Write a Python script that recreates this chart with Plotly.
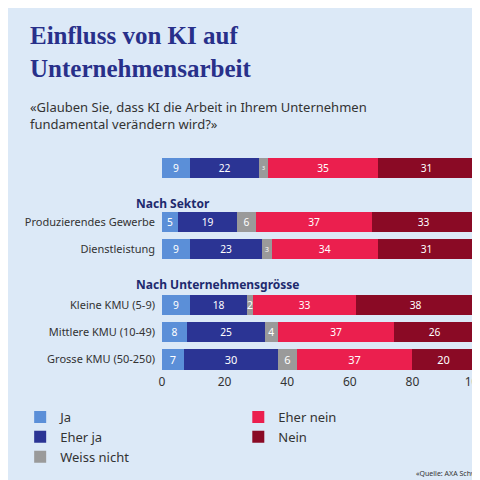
import plotly.graph_objects as go

categories = ["", "Produzierendes Gewerbe", "Dienstleistung", "Kleine KMU (5-9)", "Mittlere KMU (10-49)", "Grosse KMU (50-250)"]
ypos = [0, 2, 3, 5.07, 6.07, 7.1]
series = ["Ja", "Eher ja", "Weiss nicht", "Eher nein", "Nein"]
ja = [9, 5, 9, 9, 8, 7]
eher_ja = [22, 19, 23, 18, 25, 30]
weiss_nicht = [3, 6, 3, 2, 4, 6]
eher_nein = [35, 37, 34, 33, 37, 37]
nein = [31, 33, 31, 38, 26, 20]
values = [ja, eher_ja, weiss_nicht, eher_nein, nein]
colors = ["#5b8fd8", "#2b3494", "#9a9a9a", "#eb1f4e", "#8a0a25"]
legends = ["legend", "legend", "legend", "legend2", "legend2"]
headers = [("Total", -0.75), ("Nach Sektor", 1.3), ("Nach Unternehmensgrösse", 4.3)]

fig = go.Figure()
for name, v, c, lg in zip(series, values, colors, legends):
    fig.add_trace(go.Bar(y=ypos, x=v, name=name, orientation="h", marker_color=c,
                         marker_line_width=0, width=0.75, text=v, textposition="inside",
                         insidetextanchor="middle", textangle=0,
                         textfont=dict(color="white", size=11),
                         legend=lg, legendgroup=name))

ann = [dict(text="<b>" + h + "</b>", x=-0.09, xref="paper", y=y, yref="y", xanchor="left",
            yanchor="middle", showarrow=False,
            font=dict(size=12, color="#1e2a6e", family="Noto Sans")) for h, y in headers]
ann.append(dict(text="«Quelle: AXA Schweiz", x=(405 - 147) / 320, y=(365 - 465) / 221,
                xref="paper", yref="paper", xanchor="left", yanchor="middle", showarrow=False,
                font=dict(size=7, color="#333")))
ann.append(dict(text="<b>Einfluss von KI auf<br>Unternehmensarbeit</b>", x=(10 - 147) / 320,
                y=(365 - 12) / 221, xref="paper", yref="paper", xanchor="left", yanchor="top",
                showarrow=False, align="left",
                font=dict(size=25, color="#28308a", family="Liberation Serif")))
ann.append(dict(text="«Glauben Sie, dass KI die Arbeit in Ihrem Unternehmen<br>fundamental verändern wird?»",
                x=(10 - 147) / 320, y=(365 - 88) / 221, xref="paper", yref="paper",
                xanchor="left", yanchor="top", showarrow=False, align="left",
                font=dict(size=13, color="#333")))

leg_common = dict(orientation="v", yanchor="top", xanchor="left", font=dict(size=13),
                  bgcolor="rgba(0,0,0,0)", traceorder="normal", tracegroupgap=7)
fig.update_layout(
    width=480, height=480, barmode="stack", bargap=0,
    paper_bgcolor="#dce9f7", plot_bgcolor="#dce9f7",
    margin=dict(l=147, r=13, t=144, b=115),
    font=dict(family="Noto Sans", size=11, color="#333"),
    xaxis=dict(range=[0, 100], tickvals=[0, 20, 40, 60, 80, 100], ticksuffix="%",
               showgrid=False, zeroline=False, showline=False, tickfont=dict(size=12),
               automargin=False),
    yaxis=dict(range=[7.6, -0.6], tickvals=ypos, ticktext=categories, showgrid=False,
               zeroline=False, tickfont=dict(size=11), ticks="", ticklabelstandoff=6,
               automargin=False),
    legend=dict(x=(2 - 147) / 320, y=(365 - 394) / 221, **leg_common),
    legend2=dict(x=(225 - 147) / 320, y=(365 - 394) / 221, **leg_common),
    annotations=ann,
    showlegend=True,
)
fig.write_html("out.html")
